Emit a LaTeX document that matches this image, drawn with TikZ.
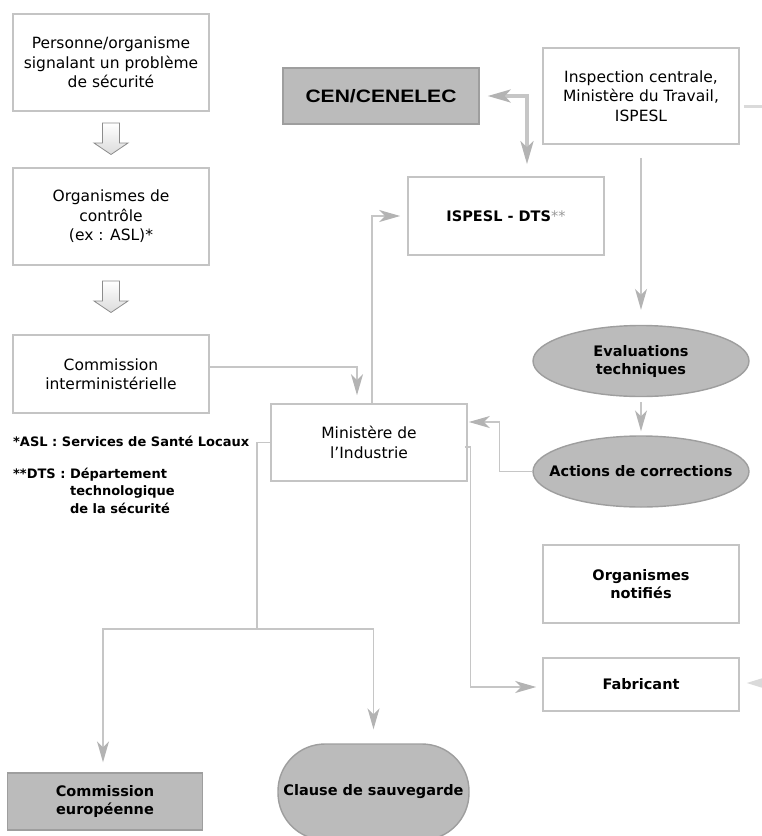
\documentclass[tikz,border=0pt]{standalone}
\usepackage{fontspec}
\setmainfont{DejaVu Sans}
\newfontfamily\cenfont[FakeStretch=1.17]{Liberation Sans}
\usetikzlibrary{shapes.geometric,arrows.meta,calc}
\definecolor{boxline}{HTML}{C4C4C4}
\definecolor{connline}{HTML}{C6C6C6}
\definecolor{tipgray}{HTML}{B3B3B3}
\definecolor{shade}{HTML}{BBBBBB}
\definecolor{shadeline}{HTML}{9E9E9E}
\definecolor{faint}{HTML}{DADADA}

\begin{document}
\begin{tikzpicture}[x=1pt,y=-1pt,
  whitebox/.style={draw=boxline,line width=1.6pt,fill=white,minimum width=196pt,align=center,inner sep=2pt},
  greybox/.style={draw=shadeline,line width=1.4pt,fill=shade,minimum width=195pt,align=center,inner sep=2pt},
  greyoval/.style={ellipse,draw=shadeline,line width=1.4pt,fill=shade,minimum width=216pt,minimum height=71pt,align=center,inner xsep=-20pt,inner ysep=0pt},
  plain/.style={font=\fontsize{15.5}{19.5}\selectfont},
  heavy/.style={font=\bfseries\fontsize{14.5}{18}\selectfont},
  note/.style={font=\bfseries\fontsize{13}{17.5}\selectfont,inner sep=0pt},
  conn/.style={draw=connline,line width=1.3pt,-{Stealth[length=21pt,width=12pt,inset=6pt,color=tipgray]}},
  hollow/.style={draw=black!45,top color=white,bottom color=black!14,line width=0.8pt,line join=miter}]
    \useasboundingbox (0,0) rectangle (762,836);
    \clip (0,0) rectangle (762,836);
    % left column
    \node[whitebox,plain,minimum height=97pt] (pers) at (111,62.5) {Personne/organisme\\signalant un problème\\de sécurité};
    \node[whitebox,plain,minimum height=97pt] (orgc) at (111,216.5) {Organismes de\\contrôle\\(ex : ASL)*};
    \node[whitebox,plain,minimum height=78pt] (cim) at (111,374) {Commission\\interministérielle};
    \foreach \t in {123,281}
      \draw[hollow] (102.5,\t) -- (119.5,\t) -- (119.5,\t+20) -- (128,\t+20) -- (111,\t+31.5) -- (94,\t+20) -- (102.5,\t+20) -- cycle;
    \node[note,anchor=west] (fnasl) at (13,441) {*ASL : Services de Santé Locaux};
    \node[note,anchor=north west,align=left] (fndts) at (13,466)
      {\begin{tabular}{@{}l@{ }l@{}}**DTS :&Département\\&technologique\\&de la sécurité\end{tabular}};
    % middle and right
    \node[greybox,minimum width=196pt,minimum height=56pt,font=\cenfont\bfseries\fontsize{18}{20}\selectfont] (cen) at (381,96) {CEN/CENELEC};
    \node[whitebox,plain,minimum height=96pt] (insp) at (641,96) {Inspection centrale,\\Ministère du Travail,\\ISPESL};
    \node[whitebox,heavy,minimum height=78pt] (dts) at (506,216) {ISPESL - DTS{\color{black!40}\mdseries**}};
    \node[whitebox,plain,minimum height=77pt] (mind) at (369,442.5) {Ministère de\\l’Industrie};
    \node[greyoval,heavy] (evalt) at (641,361) {Evaluations\\techniques};
    \node[greyoval,heavy] (actc) at (641,471.5) {Actions de corrections};
    \node[whitebox,heavy,minimum height=78pt] (orgn) at (641,584) {Organismes\\notifiés};
    \node[whitebox,heavy,minimum height=53pt] (fabr) at (641,684.5) {Fabricant};
    % bottom
    \node[greybox,heavy,minimum height=57pt] (ceu) at (105,801.5) {Commission\\européenne};
    \node[greybox,heavy,rounded corners=47pt,minimum width=191pt,minimum height=96pt] (clause) at (373.5,792) {Clause de sauvegarde};
    % connectors
    \draw[conn,shorten >=8pt] ([yshift=7pt]cim.east) -| ([xshift=-12pt]mind.north);
    \draw[conn,shorten >=7pt] ([xshift=3pt]mind.north) |- (dts.west);
    \draw[conn,shorten >=1pt] (actc.west) -- ++(-33,0) |- ([yshift=20.5pt]mind.east);
    \draw[conn,shorten <=-3pt,shorten >=6pt] ([yshift=-4.5pt]mind.east) -- ([xshift=3pt,yshift=-4.5pt]mind.east) |- ([yshift=-2.5pt]fabr.west);
    \coordinate (split) at (257,629);
    \draw[draw=connline,line width=1.3pt] (mind.west) -| (split);
    \draw[conn,shorten >=10pt] (split) -| ([xshift=-2pt]ceu.north);
    \draw[conn,shorten >=14pt] (split) -| (clause.north);
    \draw[conn,shorten <=13pt,shorten >=15pt] (insp.south) -- (evalt.north);
    \draw[conn,shorten <=5pt,shorten >=4pt] (evalt.south) -- (actc.north);
    \draw[draw=connline,line width=3.5pt,{Stealth[length=23pt,width=13pt,inset=6pt,color=tipgray]}-{Stealth[length=23pt,width=13pt,inset=6pt,color=tipgray]},shorten <=8pt,shorten >=12pt] (cen.east) -| ([xshift=21pt]dts.north);
    % off to the right
    \coordinate (offI) at (790,106);
    \coordinate (offF) at (800,683);
    \draw[draw=faint,line width=3pt,shorten <=4pt] ([yshift=-10pt]insp.east) -- (offI);
    \draw[draw=faint,line width=1.3pt,-{Stealth[length=21pt,width=13pt,inset=6pt,color=faint]},shorten >=7pt] (offF) -- ([yshift=1.5pt]fabr.east);
\end{tikzpicture}
\end{document}
